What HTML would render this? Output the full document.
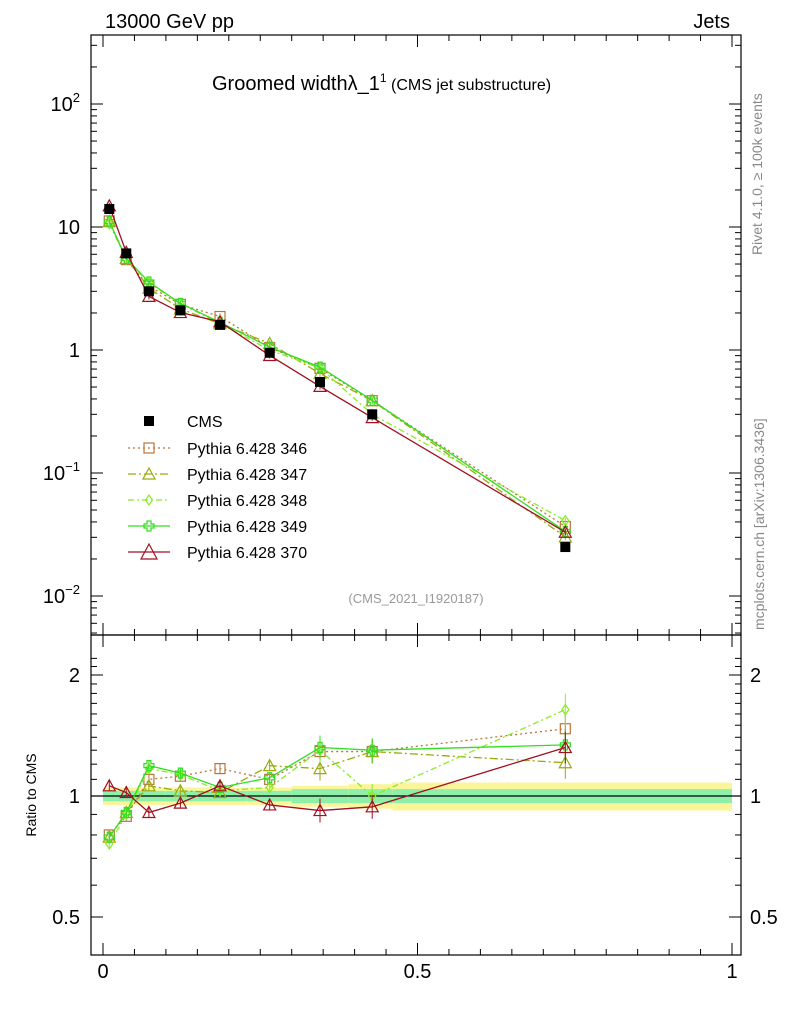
<!DOCTYPE html>
<html><head><meta charset="utf-8"><style>
body{margin:0;background:#fff}
svg text{font-family:"Liberation Sans","DejaVu Sans",sans-serif}
</style></head><body>
<svg id="c" width="786" height="1024" xmlns="http://www.w3.org/2000/svg">
<rect width="786" height="1024" fill="#fff"/>
<g id="bands"></g>
<g id="grid"></g>
<g id="series"></g>
<rect x="91" y="35" width="650" height="600" fill="none" stroke="#000" stroke-width="1.2"/>
<rect x="91" y="635" width="650" height="320" fill="none" stroke="#000" stroke-width="1.2"/>
<text x="105" y="28" font-size="20">13000 GeV pp</text>
<text x="730" y="28" font-size="20" text-anchor="end">Jets</text>
<text x="212" y="90" font-size="20">Groomed widthλ_1<tspan font-size="12" dy="-8">1</tspan><tspan font-size="16" dy="8"> (CMS jet substructure)</tspan></text>
<text x="416" y="603" font-size="13" fill="#999" text-anchor="middle">(CMS_2021_I1920187)</text>
<text transform="translate(762,255) rotate(-90)" font-size="14" fill="#888">Rivet 4.1.0, ≥ 100k events</text>
<text transform="translate(764,630) rotate(-90)" font-size="14" fill="#888">mcplots.cern.ch [arXiv:1306.3436]</text>
<text transform="translate(36,795) rotate(-90)" font-size="14" text-anchor="middle">Ratio to CMS</text>
<g id="legend"></g>
</svg>
<script>
const xs=[0.01,0.037,0.073,0.123,0.186,0.265,0.345,0.428,0.735];
const cms=[14,6.1,3.0,2.1,1.6,0.95,0.55,0.30,0.025];
const r346=[0.80,0.89,1.10,1.12,1.17,1.10,1.29,1.29,1.47];
const r347=[0.79,0.91,1.06,1.03,1.02,1.19,1.17,1.29,1.21];
const r348=[0.76,0.90,1.17,1.13,1.03,1.05,1.30,1.00,1.64];
const r349=[0.79,0.91,1.19,1.14,1.05,1.11,1.32,1.30,1.34];
const r370=[1.06,1.02,0.91,0.96,1.06,0.95,0.92,0.94,1.32];
const binEdges=[0,0.02,0.05,0.1,0.15,0.23,0.3,0.39,0.46,1];
const bandInner=[0.03,0.03,0.03,0.03,0.03,0.03,0.04,0.04,0.04];
const bandOuter=[0.05,0.05,0.05,0.05,0.05,0.05,0.06,0.07,0.08];
const yTicks=[0.01,0.1,1,10,100];
const yTickLabels=["10^-2","10^-1","1","10","10^2"];
const rTicks=[0.5,1,2];
const xTicks=[0,0.5,1];
const X=v=>103+629*v;
const Y=v=>350-123*Math.log10(v);
const R=r=>796-121*Math.log2(r);
const NS="http://www.w3.org/2000/svg";
function mk(p,t,a){const e=document.createElementNS(NS,t);for(const k in a)e.setAttribute(k,a[k]);p.appendChild(e);return e;}
const bands=document.getElementById('bands'),grid=document.getElementById('grid'),ser=document.getElementById('series'),leg=document.getElementById('legend');
for(let i=0;i<xs.length;i++){
 const x0=X(binEdges[i]),x1=X(binEdges[i+1]);
 let b=mk(bands,'rect',{x:x0,y:R(1+bandOuter[i]),width:x1-x0,height:R(1-bandOuter[i])-R(1+bandOuter[i]),fill:'#fbf59a'});
 
 
 b=mk(bands,'rect',{x:x0,y:R(1+bandInner[i]),width:x1-x0,height:R(1-bandInner[i])-R(1+bandInner[i]),fill:'#8ef0a8'});
 
 
}
mk(grid,'line',{x1:91,x2:741,y1:R(1),y2:R(1),stroke:'#000','stroke-width':1.2});
for(let d=-3;d<=2;d++)for(let m=1;m<10;m++){const v=m*Math.pow(10,d);const y=Y(v);if(y<35||y>635)continue;const L=m==1?12:6;
 mk(grid,'line',{x1:91,x2:91+L,y1:y,y2:y,stroke:'#000'});mk(grid,'line',{x1:741,x2:741-L,y1:y,y2:y,stroke:'#000'});}
yTicks.forEach((v,i)=>{const s=yTickLabels[i];const t=mk(grid,'text',{x:80,y:Y(v)+7,'font-size':20,'text-anchor':'end'});
 if(s.includes('^')){const [b,e]=s.split('^');t.textContent=b;const ts=mk(t,'tspan',{dy:-9,'font-size':13});ts.textContent=e.replace('-','−');}else t.textContent=s;
 
 });
for(let v=0.5;v<=2.3;v+=0.1){const y=R(v);if(y<635||y>955)continue;const maj=rTicks.some(t=>Math.abs(t-v)<1e-6);const L=maj?12:6;
 mk(grid,'line',{x1:91,x2:91+L,y1:y,y2:y,stroke:'#000'});mk(grid,'line',{x1:741,x2:741-L,y1:y,y2:y,stroke:'#000'});}
rTicks.forEach(v=>{const t=mk(grid,'text',{x:80,y:R(v)+7,'font-size':20,'text-anchor':'end'});t.textContent=String(v);
 
 
 const t2=mk(grid,'text',{x:750,y:R(v)+7,'font-size':20});t2.textContent=String(v);
 
 });
for(let v=0;v<=1.0001;v+=0.05){const x=X(v);const maj=Math.abs(v*2-Math.round(v*2))<1e-6;const L=maj?12:6;
 mk(grid,'line',{x1:x,x2:x,y1:955,y2:955-L,stroke:'#000'});mk(grid,'line',{x1:x,x2:x,y1:635,y2:635+L,stroke:'#000'});mk(grid,'line',{x1:x,x2:x,y1:35,y2:35+L,stroke:'#000'});mk(grid,'line',{x1:x,x2:x,y1:635,y2:635-L,stroke:'#000'});}
xTicks.forEach(v=>{const t=mk(grid,'text',{x:X(v),y:978,'font-size':20,'text-anchor':'middle'});t.textContent=String(v);
 
 });
const series=[
 {n:'Pythia 6.428 346',r:r346,c:'#b8763a',d:'2,3',m:'sq'},
 {n:'Pythia 6.428 347',r:r347,c:'#9aaa10',d:'8,3,2,3',m:'tri'},
 {n:'Pythia 6.428 348',r:r348,c:'#88ee22',d:'6,3,2,3',m:'dia'},
 {n:'Pythia 6.428 349',r:r349,c:'#33dd22',d:'',m:'cross'},
 {n:'Pythia 6.428 370',r:r370,c:'#a01020',d:'',m:'tri'}];
function marker(g,m,x,y,c,s){s=s||5;
 if(m=='sq')mk(g,'rect',{x:x-s,y:y-s,width:2*s,height:2*s,fill:'none',stroke:c,'stroke-width':1.2});
 else if(m=='tri')mk(g,'polygon',{points:`${x},${y-s-1} ${x-s-1},${y+s} ${x+s+1},${y+s}`,fill:'none',stroke:c,'stroke-width':1.2});
 else if(m=='dia')mk(g,'polygon',{points:`${x},${y-s} ${x-s*0.7},${y} ${x},${y+s} ${x+s*0.7},${y}`,fill:'none',stroke:c,'stroke-width':1.2});
 else mk(g,'path',{d:`M${x-2},${y-s}h4v${s-2}h${s-2}v4h${-(s-2)}v${s-2}h-4v${-(s-2)}h${-(s-2)}v-4h${s-2}z`,fill:'none',stroke:c,'stroke-width':1.2});}
series.forEach((s,si)=>{
 const g=mk(ser,'g',{});
 
 
 const pm=xs.map((x,i)=>[X(x),Y(cms[i]*s.r[i])]);const pr=xs.map((x,i)=>[X(x),R(s.r[i])]);
 [pm,pr].forEach((pts,k)=>{
  mk(g,'polyline',{points:pts.map(p=>p.join(',')).join(' '),fill:'none',stroke:s.c,'stroke-width':1.3,'stroke-dasharray':s.d});
  pts.forEach((p,i)=>{const e=k?(i>=6?(i==8?16:12):5):3;mk(g,'line',{x1:p[0],x2:p[0],y1:p[1]-e,y2:p[1]+e,stroke:s.c});marker(g,s.m,p[0],p[1],s.c);});
 });
 const ly=448+si*26;
 mk(leg,'line',{x1:128,x2:170,y1:ly,y2:ly,stroke:s.c,'stroke-width':1.3,'stroke-dasharray':s.d});
 marker(leg,s.m,149,ly,s.c,s.m=='tri'&&si==4?7:5);
 const t=mk(leg,'text',{x:187,y:ly+6,'font-size':16});t.textContent=s.n;
 
 
});
const gd=mk(ser,'g',{});


xs.forEach((x,i)=>{mk(gd,'rect',{x:X(x)-5,y:Y(cms[i])-5,width:10,height:10,fill:'#000'});});
mk(leg,'rect',{x:144,y:416,width:10,height:10,fill:'#000'});
const tc=mk(leg,'text',{x:187,y:427,'font-size':16});tc.textContent='CMS';


</script>
</body></html>
